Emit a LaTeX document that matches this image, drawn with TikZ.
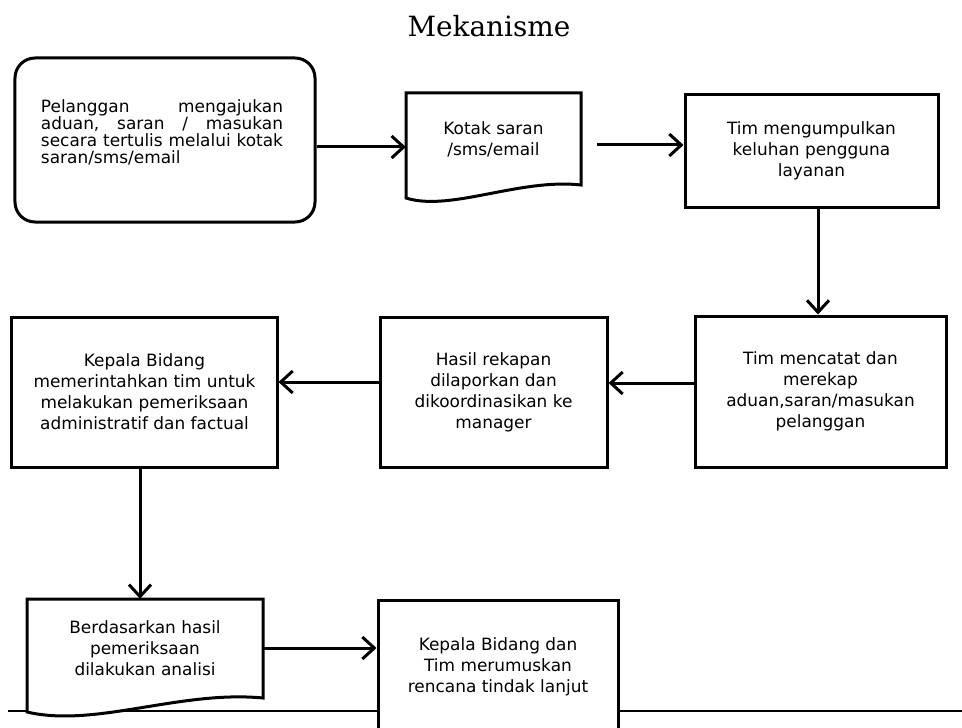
\documentclass[tikz,border=0pt]{standalone}
\usepackage{fontspec}
\setmainfont{DejaVu Sans}
\newfontfamily\titlefont{DejaVu Serif}
\usetikzlibrary{arrows.meta}
\begin{document}
\begin{tikzpicture}[x=1bp,y=-1bp,
  box/.style={draw, line width=3bp, fill=white, align=center, inner sep=0pt,
    font=\fontsize{17}{21}\selectfont},
  txt/.style={align=center, inner sep=0pt, font=\fontsize{17}{21}\selectfont},
  docshape/.style={draw, line width=3bp, fill=white, line join=miter},
  arr/.style={line width=3bp, -{Straight Barb[length=12bp,width=22bp]}},
]
\clip (0,0) rectangle (962,728);
% bottom rule
\coordinate (rl) at (8,711);
\coordinate (rr) at (962,711);
\draw[line width=1.5bp] (rl) -- (rr);

% title
\node[inner sep=0pt, font=\titlefont\fontsize{28}{34}\selectfont] (title) at (489,26) {Mekanisme};

% box 1 (rounded)
\node[box, rounded corners=20bp, minimum width=300bp, minimum height=164bp] (b1) at (165,140) {};
\node[inner sep=0pt, text width=242bp, align=left, font=\fontsize{17}{17}\selectfont] (t1) at (162,132)
  {Pelanggan\hfill mengajukan\\aduan,\hfill saran\hfill /\hfill masukan\\secara\hfill tertulis\hfill melalui\hfill kotak\\saran/sms/email};

% document 2
\draw[docshape] (406,198) .. controls (450,212) and (520,178) .. (581,185) -- (581,93) -- (406,93) -- cycle;
\node[txt, minimum width=175bp, minimum height=92bp] (d2) at (493.5,139) {Kotak saran\\/sms/email};

% box 3
\node[box, minimum width=253bp, minimum height=112bp] (b3) at (811.5,151)
  {Tim mengumpulkan\\keluhan pengguna\\layanan};
% box 4
\node[box, minimum width=251bp, minimum height=151bp] (b4) at (820.5,391.5)
  {Tim mencatat dan\\merekap\\aduan,saran/masukan\\pelanggan};
% box 5
\node[box, minimum width=227bp, minimum height=150bp] (b5) at (493.5,392)
  {Hasil rekapan\\dilaporkan dan\\dikoordinasikan ke\\manager};
% box 6
\node[box, minimum width=265bp, minimum height=150bp] (b6) at (144.5,392)
  {Kepala Bidang\\memerintahkan tim untuk\\melakukan pemeriksaan\\administratif dan factual};

% document 7
\draw[docshape] (27,712) .. controls (95,728) and (180,690) .. (263,698) -- (263,599) -- (27,599) -- cycle;
\node[txt, minimum width=236bp, minimum height=99bp] (d7) at (145,648.5)
  {Berdasarkan hasil\\pemeriksaan\\dilakukan analisi};

% box 8
\node[box, minimum width=240bp, minimum height=134bp] (b8) at (498,667)
  {Kepala Bidang dan\\Tim merumuskan\\rencana tindak lanjut};

% connectors
\draw[arr] (b1.east |- 0,147) -- (d2.west |- 0,147);
\coordinate (a2s) at (597,145);
\draw[arr] (a2s) -- (b3.west |- a2s);
\draw[arr] (b3.south -| 818,0) -- (b4.north -| 818,0);
\draw[arr] (b4.west |- 0,383) -- (b5.east |- 0,383);
\draw[arr] (b5.west |- 0,382) -- (b6.east |- 0,382);
\draw[arr] (b6.south -| 140,0) -- (d7.north -| 140,0);
\draw[arr] (d7.east |- 0,648) -- (b8.west |- 0,648);
\end{tikzpicture}
\end{document}
